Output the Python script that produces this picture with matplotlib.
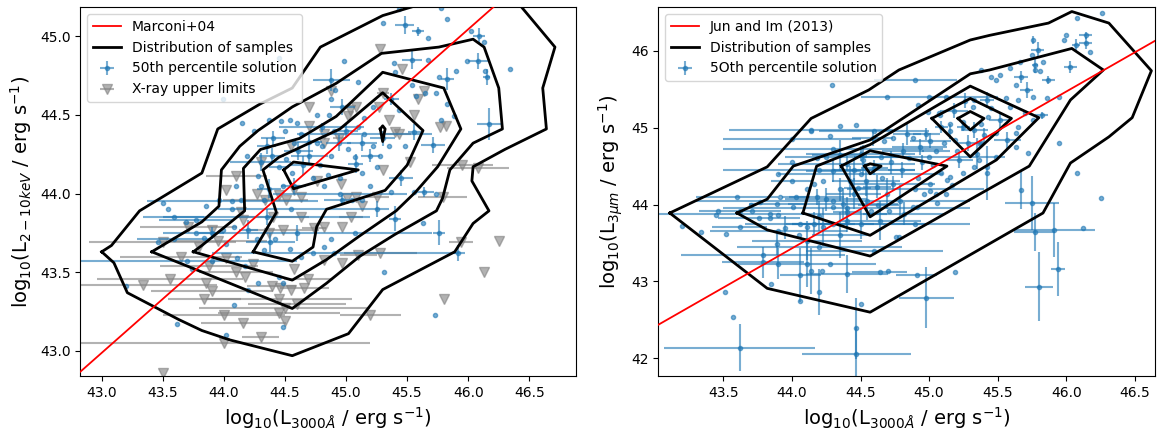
import matplotlib
matplotlib.use('Agg')
import matplotlib.pyplot as plt
import numpy as np

# ---- left panel: X-ray vs 3000A ----
# detections: (x, y, xerr, yerr)
left_det = [
    (45.43,45.17,0,0),(45.48,45.07,0.08,0.06),(45.59,45.03,0.05,0.03),(45.67,44.99,0,0),
    (45.78,45.18,0,0),(45.83,45.11,0,0),(45.30,45.08,0,0),(46.02,45.03,0,0),
    (46.09,45.00,0.05,0.05),(46.13,44.96,0,0),(46.08,44.84,0.08,0.05),(45.99,44.84,0,0),
    (45.90,44.78,0,0),(46.14,44.78,0,0),(46.15,44.74,0.03,0.05),(46.34,44.79,0,0),
    (45.67,44.85,0,0),(45.54,44.85,0.08,0.06),(45.39,44.83,0,0),(45.40,44.77,0,0),
    (45.76,44.74,0,0),(45.83,44.73,0.05,0.07),(44.98,44.84,0,0),(45.74,44.64,0,0),
    (45.65,44.64,0,0),(45.54,44.69,0,0),(45.57,44.62,0,0),(45.83,44.57,0,0),
    (45.78,44.47,0,0),(45.88,44.49,0,0),(46.17,44.44,0.10,0.10),(45.71,44.31,0.10,0.05),
    (45.56,44.39,0.05,0.05),(45.48,44.30,0,0),(45.28,44.24,0,0),(45.07,44.23,0,0),
    (44.91,44.66,0,0),(44.88,44.60,0,0),(44.86,44.50,0,0),(45.10,44.71,0,0),
    (45.15,44.48,0,0),(45.22,44.55,0,0),(45.37,44.60,0.06,0.04),(45.43,44.53,0,0),
    (44.97,44.55,0.10,0.05),(44.76,44.50,0,0),(44.54,44.47,0,0),(44.47,44.46,0,0),
    (44.37,44.47,0,0),(44.19,44.24,0,0),(43.99,44.60,0,0),(44.45,44.86,0,0),
    (44.88,44.72,0.15,0.07),(44.63,44.38,0,0),(44.70,44.33,0.10,0.04),(44.76,44.32,0,0),
    (44.80,44.30,0,0),(44.94,44.32,0.10,0.05),(45.02,44.28,0,0),(45.13,44.32,0.12,0.05),
    (45.22,44.30,0,0),(45.20,44.24,0.08,0.04),(45.25,44.17,0,0),(45.13,44.13,0,0),
    (45.08,44.19,0.06,0.06),(44.88,44.24,0,0),(44.79,44.18,0,0),(44.70,44.24,0.15,0.05),
    (44.61,44.27,0.12,0.06),(44.51,44.22,0,0),(44.45,44.17,0.08,0),(44.39,44.24,0.10,0.05),
    (44.35,44.30,0.08,0.05),(44.57,44.32,0,0),(44.73,44.10,0,0),(44.82,44.05,0,0),
    (44.57,44.05,0.10,0.05),(44.56,44.13,0,0),(44.48,44.05,0,0),(44.37,44.03,0.10,0.06),
    (44.30,44.05,0,0),(44.28,44.11,0,0),(44.33,43.96,0,0),(44.97,43.96,0.15,0.03),
    (45.05,43.96,0,0),(45.13,43.96,0,0),(45.25,43.90,0.10,0.05),(45.37,44.01,0,0),
    (45.56,44.01,0,0),(45.64,44.01,0.08,0.03),(45.74,44.00,0,0),(45.63,43.81,0,0),
    (45.76,43.75,0.05,0.08),(45.92,43.62,0.05,0.05),(45.31,43.50,0,0),(45.73,43.23,0,0),
    (45.40,43.84,0.05,0.08),(44.14,43.96,0,0),(44.07,43.90,0,0),(43.96,43.96,0,0),
    (43.85,43.92,0,0),(43.54,43.90,0,0),(43.50,43.94,0,0),(43.59,43.85,0.25,0),
    (43.69,43.82,0,0),(43.77,43.75,0,0),(43.84,43.72,0,0),(43.90,43.75,0.10,0.04),
    (43.99,43.77,0,0),(44.08,43.79,0,0),(44.20,43.77,0.08,0.06),(44.27,43.71,0,0),
    (44.33,43.64,0,0),(44.42,43.71,0,0),(44.54,43.65,0,0),(44.63,43.60,0,0),
    (44.73,43.62,0,0),(44.82,43.66,0,0),(44.88,43.71,0,0),(45.07,43.75,0,0),
    (44.02,43.68,0,0),(44.11,43.59,0,0),(44.17,43.54,0,0),(44.28,43.43,0,0),
    (44.20,43.39,0,0),(44.08,43.29,0,0),(44.45,43.47,0,0),(44.48,43.43,0,0),
    (43.62,43.17,0,0),(43.20,43.41,0,0),(43.46,43.69,0,0),(43.74,43.52,0,0),
    (43.90,43.57,0,0),(44.02,43.10,0,0),(44.48,43.15,0,0),(44.38,43.69,0.20,0.06),
    (43.59,43.71,0.30,0),(43.77,43.83,0.30,0),(43.70,43.57,0.90,0),(44.07,43.95,0.70,0),
    (44.60,43.75,1.10,0.05),(44.90,43.62,1.00,0),(44.35,43.85,0.85,0.05),(44.95,44.00,0.55,0),
    (45.15,44.38,0.55,0),(44.80,44.42,0.35,0.03),(44.30,44.20,0.25,0.06),(44.55,43.90,0.60,0),
    (44.40,44.35,0.10,0.05),(44.50,44.40,0,0),(44.60,44.45,0,0),(44.65,44.18,0.10,0.06),
    (44.90,44.40,0,0),(45.00,44.40,0.10,0.05),(45.10,44.42,0,0),(45.30,44.35,0.10,0.05),
    (45.35,44.30,0,0),(44.85,44.12,0,0),(44.95,44.10,0,0),(44.25,44.40,0,0),
    (44.15,44.45,0,0),(44.10,44.05,0,0),(45.20,44.05,0,0),(45.45,44.10,0.10,0.05),
]

# X-ray upper limits: (x, y, xerr)
left_ul = [
    (45.28,44.92,0),(45.46,44.79,0),(45.30,44.64,0.05),(45.64,44.65,0),(45.59,44.60,0),
    (45.43,44.38,0.10),(45.56,44.50,0),(45.77,44.42,0),(45.82,44.43,0),(45.52,44.20,0),
    (45.95,44.18,0.25),(46.08,44.16,0.25),(45.30,44.15,0),(45.03,44.53,0),(44.88,44.65,0),
    (45.02,44.49,0),(45.08,44.55,0),(44.82,44.38,0),(44.82,44.32,0),(44.94,44.35,0.05),
    (44.70,44.43,0),(45.25,43.98,0.10),(45.79,43.98,0.20),(46.25,43.70,0),(46.13,43.50,0),
    (45.80,43.33,0),(45.94,43.69,0.10),(45.20,43.23,0.25),(44.76,44.08,0),(44.63,43.98,0),
    (44.57,44.02,0),(44.51,43.96,0),(44.45,43.99,0),(44.34,43.96,0.35),(44.27,44.00,0),
    (44.10,44.11,0.25),(44.02,44.02,0),(44.96,44.06,0),(45.01,43.97,0),(45.08,43.98,0),
    (45.13,43.92,0),(45.04,43.85,0.10),(44.97,43.79,0),(44.82,43.79,0),(44.74,43.78,0.10),
    (44.63,43.85,0),(44.48,43.77,0.30),(44.37,43.75,0),(44.14,43.88,0),(44.16,43.83,0),
    (43.90,43.77,0),(43.71,43.79,0.40),(43.50,43.69,0.60),(43.80,43.66,0),(43.88,43.54,0.40),
    (44.02,43.59,0),(44.10,43.50,0.30),(44.17,43.47,0),(44.24,43.55,0),(44.39,43.41,0.20),
    (44.46,43.40,0),(44.55,43.39,0),(44.66,43.40,0.20),(44.57,43.52,0),(44.69,43.46,0.20),
    (44.82,43.58,0),(44.97,43.56,0),(45.10,43.61,0.15),(45.28,43.62,0.30),(43.56,43.46,0.60),
    (43.34,43.42,0.60),(43.85,43.43,0),(43.84,43.33,0.30),(44.30,43.09,0.15),(44.16,43.18,0.35),
    (44.00,43.05,1.20),(44.45,43.24,0.50),(44.50,43.19,0),(43.50,42.86,0),(45.27,44.55,0),
    (45.40,44.39,0),(44.50,43.27,0.70),(44.45,43.33,0.60),(44.00,43.23,0.50),
    (44.55,44.30,0),(44.70,44.55,0),(44.30,44.20,0),(44.40,43.85,0.30),(43.95,43.70,0.40),
    (43.65,43.60,0.50),(44.60,43.30,0.40),(43.90,43.38,0.50),(45.35,44.47,0),
]

# contour levels of the sample distribution (left)
left_c1 = [(43.00,43.63),(43.08,43.67),(43.31,43.89),(43.82,44.13),(43.95,44.41),(44.30,44.57),
           (44.56,44.67),(44.79,44.93),(45.30,45.13),(45.56,45.19),(46.00,45.30),(46.43,45.19),
           (46.71,44.93),(46.61,44.67),(46.64,44.41),(46.30,44.28),(46.04,44.17),(46.03,44.08),
           (46.17,43.89),(46.04,43.81),(45.89,43.63),(45.30,43.39),(45.02,43.11),(44.56,42.97),
           (44.05,43.07),(43.82,43.13),(43.63,43.20),(43.21,43.37),(43.10,43.56),(43.00,43.63)]
left_c2 = [(43.41,43.63),(43.82,43.82),(43.96,43.92),(43.98,44.15),(44.13,44.30),(44.28,44.40),
           (44.56,44.55),(44.92,44.70),(45.29,44.89),(45.76,44.93),(46.04,44.98),(46.13,44.93),
           (46.25,44.67),(46.28,44.41),(46.04,44.32),(45.85,44.15),(45.79,43.97),(45.74,43.89),
           (45.40,43.74),(45.11,43.60),(44.84,43.43),(44.56,43.27),(43.41,43.63)]
left_c3 = [(43.75,43.63),(43.82,43.67),(44.17,43.89),(44.16,44.16),(44.30,44.28),(44.62,44.35),
           (44.92,44.49),(45.30,44.77),(45.80,44.67),(45.94,44.41),(45.75,44.17),(45.57,44.01),
           (45.41,43.89),(45.11,43.73),(44.84,43.58),(44.56,43.45),(43.75,43.63)]
left_c4 = [(44.24,43.63),(44.43,43.88),(44.32,44.15),(44.45,44.23),(44.95,44.41),(45.30,44.64),
           (45.63,44.40),(45.50,44.18),(45.32,44.02),(44.84,43.90),(44.76,43.79),(44.73,43.66),
           (44.56,43.57),(44.24,43.63)]
left_c5a = [(44.49,44.15),(44.57,44.20),(45.10,44.15),(44.57,44.03),(44.49,44.15)]
left_c5b = [(45.28,44.41),(45.30,44.43),(45.32,44.41),(45.30,44.33),(45.28,44.41)]

marconi_slope, marconi_icpt = 0.685, 13.533

# ---- right panel: 3 micron vs 3000A ----
right_det = [
    (46.08,46.42,0,0),(46.26,46.49,0,0),(46.00,46.20,0,0),(45.98,46.14,0,0),
    (46.14,46.20,0.05,0.05),(46.14,46.10,0.05,0.08),(46.07,46.07,0.03,0.08),(46.17,45.99,0,0),
    (45.76,46.14,0,0.05),(45.79,46.01,0.05,0.10),(45.75,45.94,0,0),(45.83,45.86,0,0),
    (45.77,45.81,0.02,0.10),(46.03,45.79,0.05,0.08),(45.87,45.62,0.05,0.05),(45.77,45.75,0,0),
    (45.81,45.74,0,0),(45.66,45.86,0,0),(45.59,45.77,0,0),(45.67,45.66,0.05,0.08),
    (45.52,45.68,0,0),(45.45,45.66,0,0),(45.38,45.75,0,0),(45.49,45.62,0,0),
    (45.63,45.55,0,0),(45.71,45.49,0.05,0.10),(45.76,45.40,0,0),(45.86,45.38,0,0),
    (45.95,45.40,0,0),(45.65,45.36,0,0),(45.56,45.38,0,0),(45.59,45.27,0,0),
    (45.70,45.19,0,0),(45.82,45.16,0.05,0.05),(45.95,44.80,0,0),(45.72,44.67,0,0),
    (45.63,44.75,0,0),(45.49,44.62,0,0),(45.42,44.49,0,0),(45.36,44.58,0,0),
    (45.42,44.41,0,0.35),(45.25,44.41,0,0),(45.17,44.25,0,0),(45.13,44.32,0,0),
    (45.09,44.41,0,0),(45.03,44.51,0,0),(45.01,44.17,0,0),(45.06,44.02,0,0),
    (45.67,44.19,0,0.25),(45.75,44.02,0.20,0.35),(45.77,43.64,0.15,0.25),(45.91,43.67,0.30,0.35),
    (45.80,42.93,0.10,0.45),(45.94,43.16,0.05,0.35),(46.12,43.69,0,0),(46.08,44.41,0,0),
    (46.25,44.09,0,0),(45.25,45.01,0.05,0.05),(45.33,44.97,0.10,0.10),(45.19,44.84,0,0),
    (45.28,44.80,0.08,0.10),(45.38,44.80,0,0),(45.11,44.80,0,0),(45.09,45.01,0.05,0.08),
    (45.07,45.19,0,0),(45.42,45.36,0.05,0.10),(45.33,45.36,0,0),(45.43,45.14,0,0),
    (45.52,45.10,0.08,0.10),(45.49,44.93,0,0),(45.63,44.93,0,0),(45.57,44.84,0.10,0.10),
    (45.65,45.01,0,0),(45.76,45.10,0,0),(44.29,45.56,0,0),(44.69,45.40,0,0),
    (44.90,45.62,0.30,0),(44.92,45.29,0,0),(44.99,45.20,0,0),(45.08,45.16,0,0),
    (45.12,45.40,0,0),(45.18,45.22,0.10,0.10),(45.26,45.35,0,0.10),(45.32,45.27,0,0),
    (45.25,45.07,0,0),(45.37,44.79,0,0),(45.35,44.66,0,0.20),(45.33,44.49,0,0),
    (45.15,44.36,0,0),(45.01,44.27,0,0),(44.96,44.14,0,0),(44.91,43.97,0,0),
    (45.12,44.14,0,0),(45.05,44.14,0,0),(44.76,43.58,0,0),(45.01,44.83,0.15,0.10),
    (44.98,44.92,0.10,0.08),(44.93,44.75,0.20,0.10),(44.88,44.86,0,0),(44.84,44.92,0.10,0.15),
    (44.81,44.70,0.15,0.10),(44.74,44.86,0,0),(44.67,44.83,0,0),(44.59,44.86,0.15,0.10),
    (44.47,45.04,0,0),(44.35,45.02,0,0),(44.28,44.89,0,0),(44.14,44.96,0,0),
    (44.50,44.66,0.40,0.10),(44.35,44.64,0.20,0.20),(44.25,44.62,0.30,0),(44.18,44.60,0,0),
    (44.40,44.53,0.50,0.10),(44.30,44.44,0.20,0.15),(44.23,44.31,0,0),(44.16,44.27,0,0),
    (44.11,44.20,0,0),(44.18,44.10,0.20,0.10),(44.25,44.07,0.30,0.15),(44.30,43.97,0,0),
    (44.37,44.01,0.40,0.20),(44.45,44.14,0.20,0.20),(44.54,44.31,0.25,0.20),(44.62,44.23,0.10,0.15),
    (44.69,44.14,0,0.20),(44.74,44.27,0.30,0.10),(44.79,44.05,0,0.20),(44.88,43.97,0,0),
    (44.82,43.88,0.30,0.15),(44.71,43.92,0,0),(44.64,43.79,0.30,0.25),(44.50,43.75,0.50,0.20),
    (44.40,43.79,0,0.15),(44.30,43.75,0.30,0),(44.23,43.71,0,0.25),(44.16,43.75,0.20,0.15),
    (44.11,43.71,0,0),(44.06,43.75,0.40,0),(44.01,43.97,0,0),(44.03,44.10,0.10,0),
    (43.91,44.10,0,0),(43.89,44.01,0.20,0),(43.77,44.03,0,0),(43.71,43.92,0,0),
    (43.76,43.82,0.30,0),(43.84,43.82,0,0),(43.90,43.86,0,0),(43.62,43.92,0.30,0),
    (43.46,43.92,0,0),(43.45,43.86,0,0),(43.34,43.64,0,0),(43.20,43.72,0,0),
    (43.52,43.62,0,0),(43.62,43.71,0.20,0),(44.11,43.53,0.40,0.25),(43.89,43.49,0,0.15),
    (43.79,43.25,0.30,0.20),(43.90,43.23,0,0.20),(44.11,43.23,0.50,0.30),(44.14,43.14,0,0.30),
    (44.22,43.14,0,0),(44.28,43.23,0,0),(44.06,43.08,0.15,0.35),(43.85,42.97,0,0),
    (43.51,42.86,0,0),(44.06,42.75,0,0),(44.20,42.86,0,0.30),(44.40,43.10,0.30,0.25),
    (44.64,43.12,0.20,0),(44.70,43.14,0,0),(44.50,42.71,0,0),(44.47,42.39,0,0.40),
    (43.57,42.54,0,0),(43.62,42.14,0.55,0.30),(44.47,42.06,0.40,0.35),(44.78,43.58,0,0),
    (44.91,43.08,0.15,0),(44.98,42.79,0.20,0.40),(45.19,43.12,0,0),(43.84,43.88,0.85,0),
    (44.30,44.72,0.80,0),(44.14,44.97,0.60,0),(44.20,44.45,0.70,0),(43.79,43.34,0.60,0),
    (45.00,44.62,0.55,0),(44.60,43.40,0.50,0),
    (44.45,44.45,0.15,0.15),(44.52,44.58,0,0.20),(44.60,44.48,0.10,0.10),(44.65,44.62,0.20,0),
    (44.72,44.55,0,0.15),(44.80,44.45,0.10,0.10),(44.85,44.60,0,0),(44.42,44.30,0,0.20),
    (44.48,44.22,0.10,0),(44.55,44.05,0,0.25),(44.63,44.00,0.15,0),(44.35,44.20,0,0.15),
    (44.40,43.90,0.10,0.20),(44.58,43.92,0,0),(44.66,44.35,0,0),(44.92,44.35,0,0),
    (44.95,44.55,0,0.10),(45.05,44.70,0.10,0),(45.15,44.95,0,0.10),(45.20,44.70,0,0),
    (45.22,44.58,0.10,0.10),(45.15,45.05,0,0),(45.38,45.05,0,0),(45.45,45.25,0,0),
    (45.40,44.90,0,0.10),(44.20,43.85,0,0.20),(44.35,43.60,0.20,0.30),(44.05,43.60,0,0),
    (43.95,43.70,0,0.15),(44.00,44.30,0.15,0),(43.90,44.40,0,0),(44.00,44.55,0,0),
    (43.70,44.00,0,0),(43.60,44.10,0.30,0),(44.00,44.85,0.50,0),(44.40,43.95,0.90,0),
    (44.50,44.40,0.60,0),(44.90,44.20,0.50,0),(43.90,43.65,0.50,0),(44.30,44.05,1.00,0),
    (44.60,44.95,0.40,0),(45.00,45.40,0.50,0),(44.20,43.45,0.60,0),(44.90,43.75,0.40,0),
]

right_c1 = [(43.11,43.89),(43.82,44.49),(44.14,45.12),(44.56,45.49),(44.78,45.75),(45.30,46.14),
            (45.44,46.20),(45.87,46.36),(46.04,46.51),(46.31,46.36),(46.62,45.74),(46.48,45.13),
            (46.31,44.88),(46.03,44.54),(45.83,43.89),(44.57,42.60),(43.82,42.91),(43.11,43.89)]
right_c2 = [(43.60,43.89),(43.82,44.07),(44.01,44.50),(44.57,44.84),(45.30,45.70),(45.44,45.75),
            (46.04,46.03),(46.27,45.75),(46.03,45.36),(45.73,44.50),(44.57,43.33),(43.82,43.67),
            (43.60,43.89)]
right_c3 = [(44.08,43.89),(44.18,44.50),(44.57,44.78),(45.30,45.54),(45.80,45.13),(45.49,44.58),
            (44.57,43.60),(44.08,43.89)]
right_c4a = [(44.36,44.50),(44.57,44.70),(45.13,44.50),(44.57,43.84),(44.36,44.50)]
right_c4b = [(45.02,45.12),(45.30,45.38),(45.60,45.12),(45.30,44.62),(45.02,45.12)]
right_c5a = [(44.53,44.50),(44.57,44.53),(44.65,44.50),(44.57,44.40),(44.53,44.50)]
right_c5b = [(45.21,45.12),(45.30,45.21),(45.40,45.12),(45.30,44.97),(45.21,45.12)]

jun_slope, jun_icpt = 1.02, -1.45

fig = plt.figure(figsize=(11.69, 4.29), dpi=100)
ax1 = fig.add_axes([0.0687, 0.1235, 0.424, 0.860])
ax2 = fig.add_axes([0.5631, 0.1235, 0.4249, 0.860])


def draw(ax, det, ul, contours, slope, icpt, xlim, ylim, rel_label, det_label):
    xx = np.array(xlim)
    ax.plot(xx, slope * xx + icpt, color='red', lw=1.3, label=rel_label, zorder=4)
    for i, c in enumerate(contours):
        c = np.array(c)
        ax.plot(c[:, 0], c[:, 1], color='black', lw=2,
                label='Distribution of samples' if i == 0 else None, zorder=3)
    d = np.array(det)
    ax.errorbar(d[:, 0], d[:, 1], xerr=d[:, 2], yerr=d[:, 3], fmt='o', ms=3,
                color='C0', alpha=0.6, elinewidth=1.5, label=det_label, zorder=2)
    if ul is not None:
        u = np.array(ul)
        ax.errorbar(u[:, 0], u[:, 1], xerr=u[:, 2], fmt='v', ms=7, color='gray',
                    alpha=0.6, elinewidth=1.5, label='X-ray upper limits', zorder=1)
    ax.legend(loc='upper left', fontsize=10)
    ax.set_xlabel(r'log$_{10}$(L$_{3000\AA}$ / erg s$^{-1}$)', fontsize=14)


draw(ax1, left_det, left_ul,
     [left_c1, left_c2, left_c3, left_c4, left_c5a, left_c5b],
     marconi_slope, marconi_icpt, (42.825, 46.882), (42.841, 45.184),
     'Marconi+04', '50th percentile solution')
ax1.set_xticks(np.arange(43.0, 46.51, 0.5))
ax1.set_yticks(np.arange(43.0, 45.01, 0.5))
ax1.set_xlim(42.825, 46.882)
ax1.set_ylim(42.841, 45.184)
ax1.set_ylabel(r'log$_{10}$(L$_{2-10 keV}$ / erg s$^{-1}$)', fontsize=14)

draw(ax2, right_det, None,
     [right_c1, right_c2, right_c3, right_c4a, right_c4b, right_c5a, right_c5b],
     jun_slope, jun_icpt, (43.026, 46.646), (41.77, 46.568),
     'Jun and Im (2013)', '5Oth percentile solution')
ax2.set_xticks(np.arange(43.5, 46.51, 0.5))
ax2.set_yticks([42, 43, 44, 45, 46])
ax2.set_xlim(43.026, 46.646)
ax2.set_ylim(41.77, 46.568)
ax2.set_ylabel(r'log$_{10}$(L$_{3\mu m}$ / erg s$^{-1}$)', fontsize=14)

fig.savefig('out.png', dpi=100)
